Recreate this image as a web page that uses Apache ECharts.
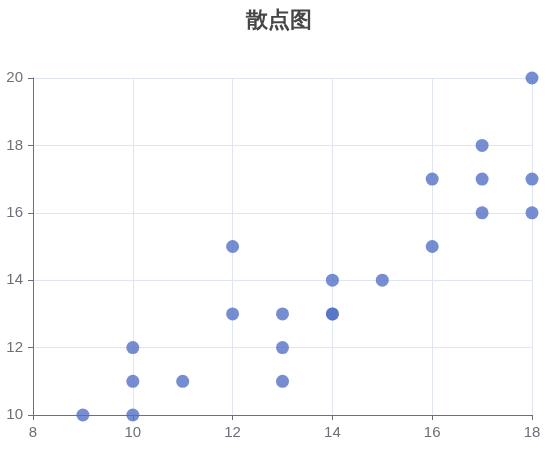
<!DOCTYPE html>
<html>
<head>
<meta charset="utf-8">
<script src="https://cdn.jsdelivr.net/npm/echarts@6/dist/echarts.min.js"></script>
<style>
  html, body { margin: 0; padding: 0; background: #fff; }
  #mychart { width: 557px; height: 457px; }
</style>
</head>
<body>
<div id="mychart"></div>
<script>
// 数据
var xValues = [9, 10, 10, 10, 11, 12, 12, 13, 13, 13, 14, 14, 14, 15, 16, 16, 17, 17, 17, 18, 18, 18]
var yValues = [10, 10, 11, 12, 11, 13, 15, 11, 12, 13, 13, 13, 14, 14, 15, 17, 16, 17, 18, 16, 17, 20]

var points = xValues.map((x, i) => [x, yValues[i]])

var myChart = echarts.init(document.getElementById('mychart'))

var axisStyle = {
  axisLine: { show: true, lineStyle: { color: '#6E7079', width: 1 } },
  axisTick: { show: true, lineStyle: { color: '#6E7079' } },
  axisLabel: { color: '#6E7079', fontSize: 15, margin: 10 },
  splitLine: { show: true, lineStyle: { color: '#E0E6F1' } }
}

var option = {
  title: {
    text: '散点图',
    left: 'center',
    top: 5,
    textStyle: { fontSize: 22, fontWeight: 'bold', color: '#464646' }
  },
  grid: {
    left: 33,
    right: 25,
    top: 78,
    bottom: 42
  },
  xAxis: Object.assign({
    type: 'value',
    min: 8,
    max: 18,
    interval: 2
  }, axisStyle),
  yAxis: Object.assign({
    type: 'value',
    min: 10,
    max: 20,
    interval: 2
  }, axisStyle),
  series: [
    {
      type: 'scatter',
      symbolSize: 13,
      itemStyle: { color: '#5470c6', opacity: 0.8 },
      data: points
    }
  ]
}

myChart.setOption(option)
</script>
</body>
</html>
